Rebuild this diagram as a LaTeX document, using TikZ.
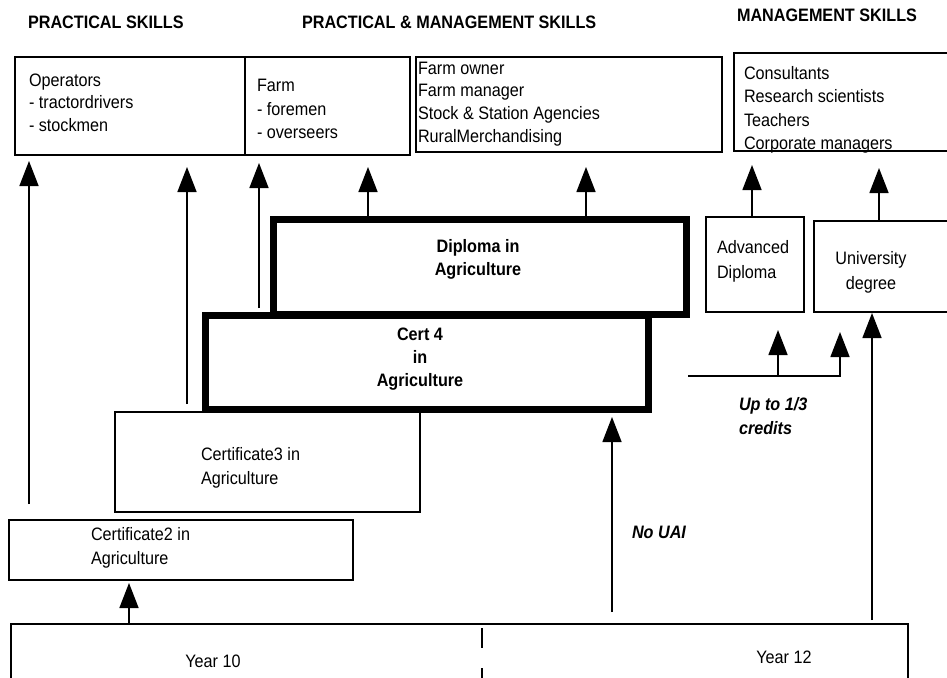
\documentclass[tikz,border=0pt]{standalone}
\usepackage{fontspec}
\setmainfont{Liberation Sans}[FakeStretch=0.9]
\usetikzlibrary{arrows.meta}
\begin{document}
\begin{tikzpicture}[x=1pt,y=-1pt,
  thinbox/.style={draw, line width=1.5pt, inner sep=0pt, outer sep=0pt, anchor=north west},
  thickbox/.style={draw, line width=7pt, inner sep=0pt, outer sep=0pt, anchor=north west},
  txt/.style={inner sep=0pt, outer sep=0pt, anchor=north west, align=left, font=\fontsize{18}{23}\selectfont},
  ctxt/.style={txt, anchor=north, align=center},
  btxt/.style={txt, font=\bfseries\fontsize{18}{23}\selectfont},
  cbtxt/.style={ctxt, font=\bfseries\fontsize{18}{23}\selectfont},
  bitxt/.style={txt, font=\bfseries\itshape\fontsize{18}{24}\selectfont},
  arr/.style={line width=1.5pt, -{Triangle[width=19pt,length=25pt]}},
  plain/.style={line width=1.5pt}
]
\useasboundingbox (0,0) rectangle (947,677);
\clip (0,0) rectangle (947,677);

% headers
\node[btxt] (h1) at (28,12.3) {\strut PRACTICAL SKILLS};
\node[btxt] (h2) at (302,12.3) {\strut PRACTICAL \& MANAGEMENT SKILLS};
\node[btxt] (h3) at (737,5.3) {\strut MANAGEMENT SKILLS};

% top boxes
\node[thinbox, minimum width=230pt, minimum height=98pt] (ops) at (15,57) {};
\node[thinbox, minimum width=165pt, minimum height=98pt] (farm) at (245,57) {};
\node[thinbox, minimum width=306pt, minimum height=95pt] (own) at (416,57) {};
\node[thinbox, minimum width=260pt, minimum height=98pt] (cons) at (734,53) {};

\node[txt, font=\fontsize{18}{22.5}\selectfont] (tops) at (29,70.3) {\strut Operators\\- tractordrivers\\- stockmen};
\node[txt, font=\fontsize{18}{23.5}\selectfont] (tfarm) at (257,75.3) {\strut Farm\\- foremen\\- overseers};
\node[txt, font=\fontsize{18}{22.7}\selectfont] (town) at (418,58.3) {\strut Farm owner\\Farm manager\\Stock \& Station Agencies\\RuralMerchandising};
\node[txt, font=\fontsize{18}{23.3}\selectfont] (tcons) at (744,63.3) {\strut Consultants\\Research scientists\\Teachers\\Corporate managers};

% qualification boxes
\node[thickbox, minimum width=413pt, minimum height=95pt] (dip) at (273,219) {};
\node[thickbox, minimum width=443pt, minimum height=94pt] (cert4) at (205,315) {};
\node[thinbox, minimum width=305pt, minimum height=100pt] (cert3) at (115,412) {};
\node[thinbox, minimum width=344pt, minimum height=60pt] (cert2) at (9,520) {};
\node[thinbox, minimum width=98pt, minimum height=95pt] (adv) at (706,217) {};
\node[thinbox, minimum width=180pt, minimum height=91pt] (uni) at (814,221) {};
\node[thinbox, minimum width=897pt, minimum height=80pt] (year) at (11,624) {};

\node[cbtxt] (tdip) at (478,236.3) {\strut Diploma in\\Agriculture};
\node[cbtxt] (tcert4) at (420,324.3) {\strut Cert 4\\in\\Agriculture};
\node[txt, font=\fontsize{18}{24}\selectfont] (tcert3) at (201,443.3) {\strut Certificate3 in\\Agriculture};
\node[txt, font=\fontsize{18}{24}\selectfont] (tcert2) at (91,523.3) {\strut Certificate2 in\\Agriculture};
\node[txt, font=\fontsize{18}{25}\selectfont] (tadv) at (717,236.3) {\strut Advanced\\Diploma};
\node[ctxt, font=\fontsize{18}{25}\selectfont] (tuni) at (871,247.3) {\strut University\\degree};
\node[ctxt] (ty10) at (213,651.3) {\strut Year 10};
\node[ctxt] (ty12) at (784,647.3) {\strut Year 12};
\node[bitxt] (tnouai) at (632,521.3) {\strut No UAI};
\node[bitxt] (tcred) at (739,393.3) {\strut Up to 1/3\\credits};

% year divider
\coordinate (d1) at (482,628);
\coordinate (d2) at (482,700);
\draw[plain, dash pattern=on 20pt off 20pt] (d1) -- (d2);

% arrows to top boxes
\coordinate (s1) at (29,504);
\coordinate (s2) at (187,404);
\coordinate (s3) at (259,308);
\draw[arr, shorten >=6pt] (s1) -- (s1 |- ops.south);
\draw[arr, shorten >=12pt] (s2) -- (s2 |- ops.south);
\draw[arr, shorten >=8pt] (s3) -- (s3 |- farm.south);
\draw[arr, shorten >=12pt] ([xshift=95pt]dip.north west) coordinate (s4) -- (s4 |- farm.south);
\draw[arr, shorten >=15pt] ([xshift=313pt]dip.north west) coordinate (s5) -- (s5 |- own.south);
\draw[arr, shorten >=14pt] ([xshift=46pt]adv.north west) coordinate (s6) -- (s6 |- cons.south);
\draw[arr, shorten >=17pt] ([xshift=65pt]uni.north west) coordinate (s7) -- (s7 |- cons.south);

% lower arrows
\draw[arr, shorten >=3pt] ([xshift=118pt]year.north west) coordinate (s8) -- (s8 |- cert2.south);
\coordinate (s9) at (612,612);
\draw[arr, shorten >=8pt] (s9) -- (s9 |- cert4.south);
\coordinate (s10) at (872,620);
\draw[arr, shorten >=1pt] (s10) -- (s10 |- uni.south);

% credits connector
\coordinate (c0) at (688,376);
\coordinate (c1) at (840,376);
\coordinate (c2) at (778,376);
\draw[arr, shorten >=20pt] (c0) -- (c1) -- (c1 |- uni.south);
\draw[arr, shorten >=18pt] (c2) -- (c2 |- adv.south);
\end{tikzpicture}
\end{document}
